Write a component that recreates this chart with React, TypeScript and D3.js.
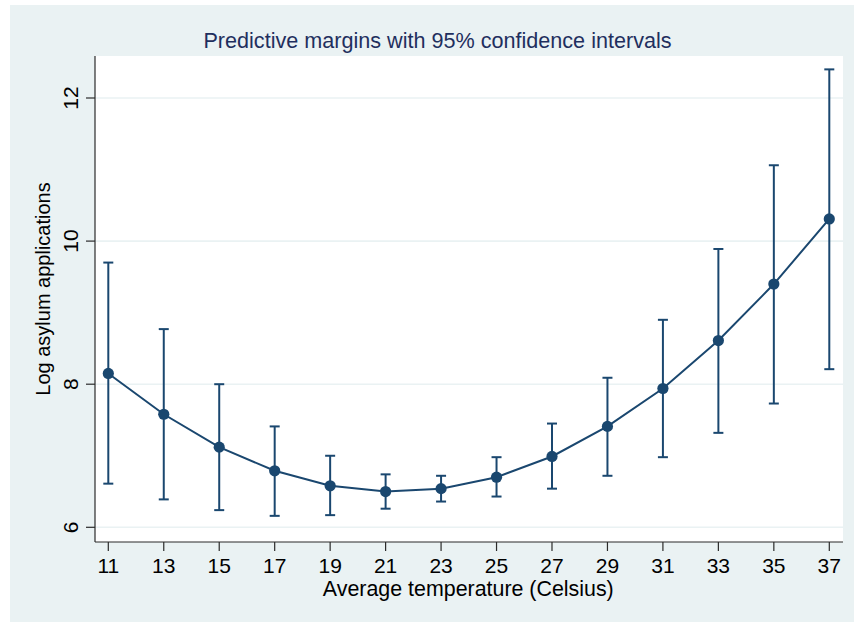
import * as d3 from 'd3'

// temperatures (x), predictive margins and 95% CI bounds
const temps = [11, 13, 15, 17, 19, 21, 23, 25, 27, 29, 31, 33, 35, 37]
const margins = [8.15, 7.58, 7.12, 6.79, 6.58, 6.5, 6.54, 6.7, 6.99, 7.41, 7.94, 8.61, 9.4, 10.31]
const upper = [9.7, 8.77, 8.0, 7.41, 7.0, 6.74, 6.72, 6.98, 7.45, 8.09, 8.9, 9.89, 11.06, 12.4]
const lower = [6.61, 6.39, 6.24, 6.16, 6.17, 6.26, 6.36, 6.43, 6.54, 6.72, 6.98, 7.32, 7.73, 8.21]
const yTicks = [6, 8, 10, 12]

const title = 'Predictive margins with 95% confidence intervals'
const xTitle = 'Average temperature (Celsius)'
const yTitle = 'Log asylum applications'

const W = 854
const H = 622
const plot = { left: 95, right: 843, top: 56, bottom: 542 }
const navy = '#1a476f'
const font = '"Liberation Sans", Arial, Helvetica, sans-serif'

export default function App() {
  const x = d3.scaleLinear().domain([11, 37]).range([108.3, 829.3])
  const y = d3.scaleLinear().domain([6, 12]).range([527.3, 98])

  const points = temps.map((t, i) => ({ t, m: margins[i], hi: upper[i], lo: lower[i] }))
  const line = d3
    .line<{ t: number; m: number }>()
    .x((d) => x(d.t))
    .y((d) => y(d.m))

  return (
    <svg
      width={W}
      height={H}
      style={{ position: 'absolute', left: 0, top: 0, fontFamily: font }}
    >
      <rect x={0} y={0} width={W} height={H} fill="#ffffff" />
      <rect x={10} y={5} width={W - 10} height={H - 5} fill="#eaf2f3" />
      <rect
        x={plot.left}
        y={plot.top}
        width={plot.right - plot.left}
        height={plot.bottom - plot.top}
        fill="#ffffff"
      />

      {/* grid */}
      {yTicks.map((v) => (
        <line
          key={`g${v}`}
          x1={plot.left}
          x2={plot.right}
          y1={y(v)}
          y2={y(v)}
          stroke="#eaf2f3"
          strokeWidth={1.6}
        />
      ))}

      {/* axes */}
      <line x1={plot.left} x2={plot.left} y1={plot.top} y2={plot.bottom} stroke="#2b2b2b" strokeWidth={1.2} />
      <line x1={plot.left} x2={plot.right} y1={plot.bottom} y2={plot.bottom} stroke="#2b2b2b" strokeWidth={1.2} />

      {yTicks.map((v) => (
        <g key={`y${v}`}>
          <line x1={plot.left - 9} x2={plot.left} y1={y(v)} y2={y(v)} stroke="#2b2b2b" strokeWidth={1.2} />
          <text
            transform={`translate(${77.5},${y(v)}) rotate(-90)`}
            textAnchor="middle"
            fontSize={21}
            fill="#000"
          >
            {v}
          </text>
        </g>
      ))}

      {temps.map((t) => (
        <g key={`x${t}`}>
          <line x1={x(t)} x2={x(t)} y1={plot.bottom} y2={plot.bottom + 9} stroke="#2b2b2b" strokeWidth={1.2} />
          <text x={x(t)} y={572.5} textAnchor="middle" fontSize={21} fill="#000">
            {t}
          </text>
        </g>
      ))}

      <text x={437.5} y={47.5} textAnchor="middle" fontSize={21.6} fill="#1f2f5e">
        {title}
      </text>
      <text x={468.3} y={595.7} textAnchor="middle" fontSize={21.4} fill="#000">
        {xTitle}
      </text>
      <text
        transform={`translate(${50},${289}) rotate(-90)`}
        textAnchor="middle"
        fontSize={20}
        fill="#000"
      >
        {yTitle}
      </text>

      {/* confidence intervals */}
      {points.map((d) => (
        <g key={`ci${d.t}`} stroke={navy} strokeWidth={2}>
          <line x1={x(d.t)} x2={x(d.t)} y1={y(d.hi)} y2={y(d.lo)} />
          <line x1={x(d.t) - 5} x2={x(d.t) + 5} y1={y(d.hi)} y2={y(d.hi)} />
          <line x1={x(d.t) - 5} x2={x(d.t) + 5} y1={y(d.lo)} y2={y(d.lo)} />
        </g>
      ))}

      <path d={line(points) || ''} fill="none" stroke={navy} strokeWidth={2} />
      {points.map((d) => (
        <circle key={`p${d.t}`} cx={x(d.t)} cy={y(d.m)} r={5.6} fill={navy} />
      ))}
    </svg>
  )
}
